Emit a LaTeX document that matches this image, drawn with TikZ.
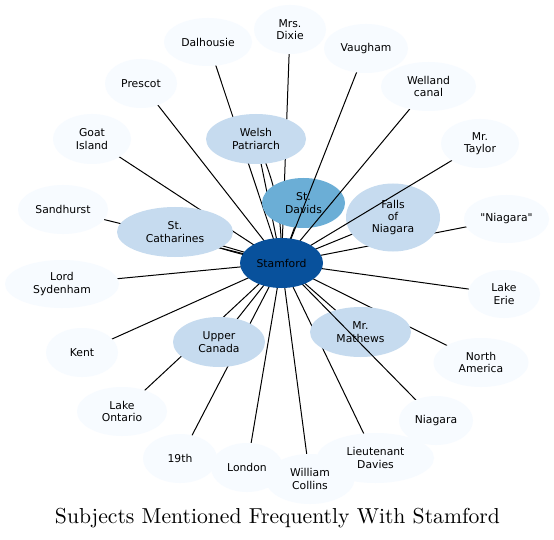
\documentclass[tikz,border=0pt]{standalone}
\usepackage{fontspec}
\newfontfamily\nodefont{DejaVu Sans}
\usetikzlibrary{shapes.geometric}
\definecolor{cdark}{HTML}{08519C}
\definecolor{cdav}{HTML}{6BAED6}
\definecolor{cmid}{HTML}{C6DBEF}
\definecolor{clight}{HTML}{F7FBFF}
\pgfdeclarelayer{bg}
\pgfdeclarelayer{edges}
\pgfdeclarelayer{low}
\pgfdeclarelayer{over}
\pgfsetlayers{bg,edges,low,over,main}
\tikzset{
  bub/.style={ellipse, draw=none, inner sep=0pt, align=center,
    font=\nodefont\fontsize{10.8}{12.3}\selectfont, text=black},
  lightn/.style={bub, fill=clight},
  midn/.style={bub, fill=cmid},
  davn/.style={bub, fill=cdav},
  darkn/.style={bub, fill=cdark},
  link/.style={line width=1pt, black},
  titlestyle/.style={anchor=base, inner sep=0pt}
}
\begin{document}
\begin{tikzpicture}[x=1pt,y=-1pt]
\begin{pgfonlayer}{bg}
\fill[white] (0,0) rectangle (554,540);
\end{pgfonlayer}
\useasboundingbox (0,0) rectangle (554,540);

% nodes under some edges
\begin{pgfonlayer}{low}
\node[davn, minimum width=83pt, minimum height=50pt] (dav) at (303.5,203) {St.\\Davids};
\node[midn, minimum width=94pt, minimum height=68pt] (falls) at (393,217.5) {Falls\\of\\Niagara};
\node[midn, minimum width=101pt, minimum height=50pt] (math) at (360.5,332) {Mr.\\Mathews};
\end{pgfonlayer}

% top nodes
\node[midn, minimum width=100pt, minimum height=50pt] (welsh) at (256,139) {Welsh\\Patriarch};
\node[midn, minimum width=116pt, minimum height=50pt] (cath) at (175,232) {St.\\Catharines};
\node[midn, minimum width=92pt, minimum height=50pt] (upper) at (219,342) {Upper\\Canada};

\node[lightn, minimum width=88pt, minimum height=48pt] (dal) at (208,42) {Dalhousie};
\node[lightn, minimum width=72pt, minimum height=49pt] (dixie) at (290,29.5) {Mrs.\\Dixie};
\node[lightn, minimum width=84pt, minimum height=49pt] (vau) at (366,48.5) {Vaugham};
\node[lightn, minimum width=95pt, minimum height=49pt] (well) at (428.5,86.5) {Welland\\canal};
\node[lightn, minimum width=78pt, minimum height=49pt] (tay) at (480,143.5) {Mr.\\Taylor};
\node[lightn, minimum width=85pt, minimum height=48pt] (qniag) at (506.5,219) {"Niagara"};
\node[lightn, minimum width=72pt, minimum height=48pt] (erie) at (504,294) {Lake\\Erie};
\node[lightn, minimum width=95pt, minimum height=49pt] (namer) at (481,362.5) {North\\America};
\node[lightn, minimum width=74pt, minimum height=49pt] (niag) at (436,420.5) {Niagara};
\node[lightn, minimum width=117pt, minimum height=50pt] (lieut) at (375.5,458) {Lieutenant\\Davies};
\node[lightn, minimum width=72pt, minimum height=49pt] (lond) at (247,467.5) {London};
\node[lightn, minimum width=89pt, minimum height=50pt] (will) at (310,479) {William\\Collins};
\node[lightn, minimum width=74pt, minimum height=49pt] (nine) at (180,458.5) {19th};
\node[lightn, minimum width=90pt, minimum height=49pt] (lont) at (122,411.5) {Lake\\Ontario};
\node[lightn, minimum width=72pt, minimum height=49pt] (kent) at (82,352.5) {Kent};
\node[lightn, minimum width=114pt, minimum height=48pt] (lord) at (62,284) {Lord\\Sydenham};
\node[lightn, minimum width=90pt, minimum height=49pt] (sand) at (63,209.5) {Sandhurst};
\node[lightn, minimum width=78pt, minimum height=50pt] (goat) at (92,139) {Goat\\Island};
\node[lightn, minimum width=72pt, minimum height=49pt] (pres) at (141,83.5) {Prescot};

\node[darkn, minimum width=83pt, minimum height=50pt] (stam) at (281.5,263) {Stamford};

% edges under nodes
\begin{pgfonlayer}{edges}
\foreach \t in {dav,falls,math,welsh,cath,upper,dal,dixie,qniag,erie,namer,
  lieut,lond,will,nine,lont,kent,lord,sand,goat,pres}
  \draw[link] (stam.center) -- (\t.center);
\draw[link] (stam.center) to[bend right=12] (welsh.center);
\draw[link] (stam.center) to[bend left=5] (cath.center);
\end{pgfonlayer}

% edges drawn over the lower nodes
\begin{pgfonlayer}{over}
\foreach \t in {vau,well,tay,niag}
  \draw[link] (stam.center) -- (\t.center);
\end{pgfonlayer}

\node[titlestyle] (title) at (277.5,523.5)
  {\resizebox{445pt}{!}{Subjects Mentioned Frequently With Stamford}};
\end{tikzpicture}
\end{document}
